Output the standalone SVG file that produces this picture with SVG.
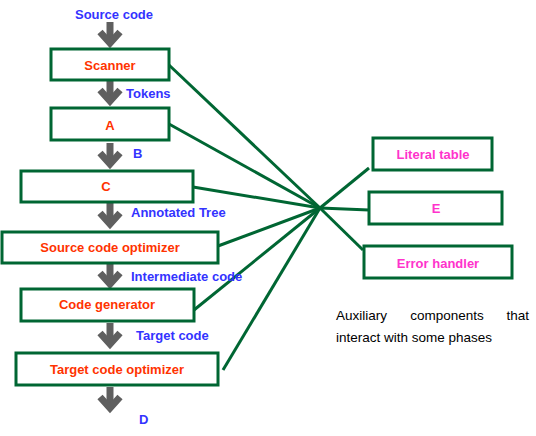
<svg xmlns="http://www.w3.org/2000/svg" width="536" height="436" viewBox="0 0 536 436">
<style>
  .box { fill: #ffffff; stroke: #006633; stroke-width: 3; }
  .link { stroke: #006633; stroke-width: 3; fill: none; }
  .t { font-family: "Liberation Sans", Arial, sans-serif; font-size: 13px; font-weight: bold; }
  .phase { fill: #ff3300; text-anchor: middle; }
  .aux { fill: #ff33cc; text-anchor: middle; }
  .lbl { fill: #3333ff; }
  .note { fill: #000000; font-weight: normal; font-size: 13.5px; }
  .arr { stroke: #5f5f5f; stroke-width: 7; fill: none; stroke-linejoin: miter; }
</style>
<defs>
  <g id="downArrow">
    <path class="arr" d="M0,0 V22"/>
    <path class="arr" d="M-10,10 L0,21 L10,10"/>
  </g>
</defs>
<rect width="536" height="436" fill="#ffffff"/>

<g id="connectors">
  <line class="link" x1="169" y1="65" x2="320" y2="208"/>
  <line class="link" x1="169" y1="124" x2="320" y2="208"/>
  <line class="link" x1="193" y1="187" x2="320" y2="208"/>
  <line class="link" x1="218" y1="246" x2="320" y2="208"/>
  <line class="link" x1="194" y1="310" x2="320" y2="208"/>
  <line class="link" x1="223" y1="370" x2="320" y2="208"/>
  <line class="link" x1="320" y1="208" x2="369" y2="168"/>
  <line class="link" x1="320" y1="208" x2="369" y2="210"/>
  <line class="link" x1="320" y1="208" x2="363" y2="250"/>
</g>

<g id="flow-arrows">
  <use href="#downArrow" x="110" y="22"/>
  <use href="#downArrow" x="110" y="80"/>
  <use href="#downArrow" x="110" y="143"/>
  <use href="#downArrow" x="110" y="203"/>
  <use href="#downArrow" x="110" y="263"/>
  <use href="#downArrow" x="110" y="323"/>
  <use href="#downArrow" x="110" y="387"/>
</g>

<g id="flow-labels" class="t lbl">
  <text x="114" y="19" text-anchor="middle">Source code</text>
  <text x="126" y="98">Tokens</text>
  <text x="133" y="158">B</text>
  <text x="131" y="217">Annotated Tree</text>
  <text x="131" y="281">Intermediate code</text>
  <text x="136" y="340">Target code</text>
  <text x="139" y="424">D</text>
</g>

<g id="scanner">
  <rect class="box" x="51" y="49" width="118" height="31"/>
  <text class="t phase" x="110" y="70">Scanner</text>
</g>
<g id="node-a">
  <rect class="box" x="51" y="108" width="118" height="32"/>
  <text class="t phase" x="110" y="130">A</text>
</g>
<g id="node-c">
  <rect class="box" x="21" y="171" width="172" height="31"/>
  <text class="t phase" x="106" y="191">C</text>
</g>
<g id="source-code-optimizer">
  <rect class="box" x="2" y="232" width="216" height="31"/>
  <text class="t phase" x="110" y="252">Source code optimizer</text>
</g>
<g id="code-generator">
  <rect class="box" x="21" y="289" width="173" height="32"/>
  <text class="t phase" x="107" y="309">Code generator</text>
</g>
<g id="target-code-optimizer">
  <rect class="box" x="16" y="353" width="202" height="32"/>
  <text class="t phase" x="117" y="374">Target code optimizer</text>
</g>

<g id="literal-table">
  <rect class="box" x="373" y="138" width="119" height="32"/>
  <text class="t aux" x="433" y="159">Literal table</text>
</g>
<g id="node-e">
  <rect class="box" x="369" y="192" width="133" height="32"/>
  <text class="t aux" x="436" y="213">E</text>
</g>
<g id="error-handler">
  <rect class="box" x="364" y="246" width="148" height="32"/>
  <text class="t aux" x="438" y="268">Error handler</text>
</g>

<g id="note" class="t note">
  <text x="336" y="320">Auxiliary</text>
  <text x="447" y="320" text-anchor="middle">components</text>
  <text x="529" y="320" text-anchor="end">that</text>
  <text x="336" y="342">interact with some phases</text>
</g>
</svg>
